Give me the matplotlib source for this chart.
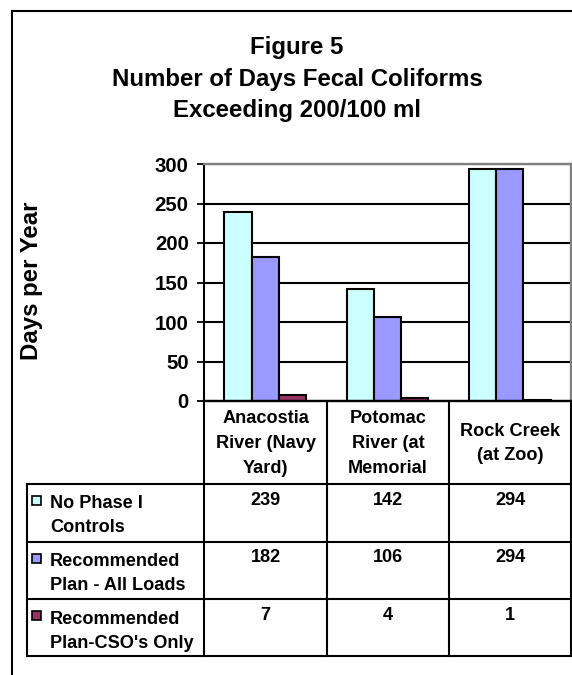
import matplotlib
matplotlib.use("Agg")
import matplotlib.pyplot as plt
from matplotlib.patches import Rectangle

plt.rcParams['font.family'] = ['Liberation Sans', 'DejaVu Sans']
plt.rcParams['font.weight'] = 'bold'

# data
categories = [["Anacostia", "River (Navy", "Yard)"],
              ["Potomac", "River (at", "Memorial"],
              ["Rock Creek", "(at Zoo)"]]
series_names = [["No Phase I", "Controls"],
                ["Recommended", "Plan - All Loads"],
                ["Recommended", "Plan-CSO's Only"]]
no_phase1 = [239, 142, 294]
rec_all_loads = [182, 106, 294]
rec_cso_only = [7, 4, 1]
series_values = [no_phase1, rec_all_loads, rec_cso_only]
series_colors = ["#CCFFFF", "#9999FF", "#993366"]
title_lines = ["Figure 5", "Number of Days Fecal Coliforms", "Exceeding 200/100 ml"]
yticks = [0, 50, 100, 150, 200, 250, 300]

W, H = 572, 675
fig = plt.figure(figsize=(W / 100, H / 100), dpi=100)

# plot area in pixel coords
px_l, px_r, px_t, px_b = 204, 571, 164, 401
ax = fig.add_axes([px_l / W, 1 - px_b / H, (px_r - px_l) / W, (px_b - px_t) / H])

bw = 1 / 4.5            # gap width 150%
off = 0.75 * bw
for s, (vals, col) in enumerate(zip(series_values, series_colors)):
    xs = [i + off + s * bw for i in range(len(vals))]
    ax.bar(xs, vals, width=bw, align='edge', color=col, edgecolor='black',
           linewidth=1.5, zorder=3)

ax.set_xlim(0, 3)
ax.set_ylim(0, 300)
ax.set_yticks(yticks)
ax.set_xticks([])
ax.yaxis.grid(True, color='black', linewidth=1.5)
ax.set_axisbelow(True)
ax.tick_params(axis='y', direction='out', length=5, width=1.3, pad=6,
               labelsize=14.7)
for lab in ax.get_yticklabels():
    lab.set_fontweight('bold')
ax.spines['top'].set_color('#808080')
ax.spines['right'].set_color('#808080')
ax.spines['top'].set_linewidth(1.7)
ax.spines['right'].set_linewidth(1.7)
ax.spines['left'].set_linewidth(1.5)
ax.spines['bottom'].set_linewidth(1.7)
ax.spines['bottom'].set_zorder(4)

# overlay in pixel coordinates for frame, titles and data table
ov = fig.add_axes([0, 0, 1, 1], zorder=-1)
ov.set_xlim(0, W)
ov.set_ylim(H, 0)
ov.axis('off')

lw = 1.5
# outer chart frame (right/bottom cut off)
ov.plot([12, 12], [11, H + 5], color='black', lw=lw)
ov.plot([12, W + 5], [11, 11], color='black', lw=lw)

title_base = [54, 86, 117]
for txt, yb in zip(title_lines, title_base):
    ov.text(297, yb, txt, ha='center', va='baseline', fontsize=17.3,
            fontweight='bold')

fig.text(32 / W, 1 - 281 / H, "Days per Year", rotation=90, ha='center',
         va='center', fontsize=17.3, fontweight='bold')

# data table
col_x = [204, 327, 449, 571]
row_y = [401, 484, 541.5, 599, 656]
tab_l = 27
for x in col_x:
    ov.plot([x, x], [row_y[0], row_y[-1]], color='black', lw=lw)
ov.plot([tab_l, tab_l], [row_y[1], row_y[-1]], color='black', lw=lw)
for y in row_y[1:]:
    ov.plot([tab_l, col_x[-1]], [y, y], color='black', lw=lw)

hdr_mid = (row_y[0] + row_y[1]) / 2
for i, lines in enumerate(categories):
    cx = (col_x[i] + col_x[i + 1]) / 2
    k = len(lines)
    for j, line in enumerate(lines):
        yb = hdr_mid + 5.5 + (j - (k - 1) / 2) * 25
        ov.text(cx, yb, line, ha='center', va='baseline', fontsize=13.1,
                fontweight='bold')

for r, (names, vals, col) in enumerate(zip(series_names, series_values, series_colors)):
    top = row_y[r + 1]
    ov.add_patch(Rectangle((32, top + 12), 9, 9, facecolor=col,
                           edgecolor='black', lw=1.2))
    for j, line in enumerate(names):
        ov.text(50, top + 24.5 + j * 24, line, ha='left', va='baseline',
                fontsize=13.1, fontweight='bold')
    for i, v in enumerate(vals):
        cx = (col_x[i] + col_x[i + 1]) / 2
        ov.text(cx, top + 21, str(v), ha='center', va='baseline',
                fontsize=13.1, fontweight='bold')

fig.savefig("out.png", dpi=100, facecolor='white')
